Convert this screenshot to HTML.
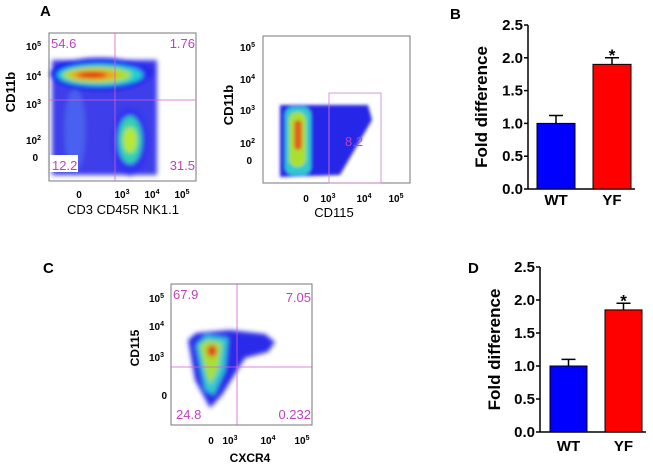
<!DOCTYPE html>
<html><head><meta charset="utf-8"><style>
body{margin:0;background:#fff;width:653px;height:465px;overflow:hidden}
svg text{font-family:"Liberation Sans",Arial,sans-serif}
</style></head><body>
<svg width="653" height="465" viewBox="0 0 653 465" xmlns="http://www.w3.org/2000/svg">
<defs>
<filter id="bl" x="-30%" y="-30%" width="160%" height="160%"><feGaussianBlur stdDeviation="2.5"/></filter>
<filter id="bl2" x="-30%" y="-30%" width="160%" height="160%"><feGaussianBlur stdDeviation="1.5"/></filter>
</defs>

<text x="40" y="16" font-size="15" font-weight="bold">A</text>
<text x="450" y="19" font-size="15" font-weight="bold">B</text>
<text x="43" y="273" font-size="15" font-weight="bold">C</text>
<text x="468" y="273" font-size="15" font-weight="bold">D</text>

<g>
<g filter="url(#bl)">
<rect x="52" y="60" width="105" height="115" fill="#2828e8" opacity="0.9"/>
<ellipse cx="100" cy="74" rx="50" ry="16" fill="#1010f0"/>
<ellipse cx="140" cy="72" rx="15" ry="9" fill="#2a2aef"/>
<ellipse cx="100" cy="75" rx="43" ry="11" fill="#20d0d0"/>
<ellipse cx="97" cy="75" rx="34" ry="8" fill="#b0e020"/>
<ellipse cx="94" cy="75" rx="24" ry="5" fill="#f0a020"/>
<ellipse cx="92" cy="75" rx="15" ry="3" fill="#e02010"/>
<ellipse cx="130" cy="142" rx="18" ry="34" fill="#3030f0"/>
<ellipse cx="130" cy="140" rx="12" ry="24" fill="#30d0b0"/>
<ellipse cx="130" cy="140" rx="7" ry="13" fill="#b8e830"/>
<ellipse cx="75" cy="130" rx="10" ry="40" fill="#4a60f0"/>
</g>
<rect x="49" y="33" width="147" height="148" fill="none" stroke="#777" stroke-width="1"/>
<line x1="115" y1="33" x2="115" y2="181" stroke="#d060d0" stroke-width="0.8"/>
<line x1="49" y1="100" x2="196" y2="100" stroke="#d060d0" stroke-width="0.8"/>
<rect x="50" y="155" width="28" height="17" fill="#fff"/>
<g fill="#c040c0" font-size="13">
<text x="51" y="48">54.6</text><text x="195" y="48" text-anchor="end">1.76</text>
<text x="52" y="170">12.2</text><text x="195" y="170" text-anchor="end">31.5</text>
</g>
<g font-size="10" font-weight="bold" text-anchor="end">
<text x="41" y="50">10<tspan dy="-4" font-size="7">5</tspan></text>
<text x="41" y="80">10<tspan dy="-4" font-size="7">4</tspan></text>
<text x="41" y="108">10<tspan dy="-4" font-size="7">3</tspan></text>
<text x="41" y="144">10<tspan dy="-4" font-size="7">2</tspan></text>
<text x="38" y="161">0</text>
</g>
<g font-size="10" font-weight="bold" text-anchor="middle">
<text x="79" y="198">0</text>
<text x="122" y="198">10<tspan dy="-4" font-size="7">3</tspan></text>
<text x="152" y="198">10<tspan dy="-4" font-size="7">4</tspan></text>
<text x="182" y="198">10<tspan dy="-4" font-size="7">5</tspan></text>
</g>
<text x="123" y="214" font-size="13" text-anchor="middle">CD3 CD45R NK1.1</text>
<text transform="translate(15,92) rotate(-90)" font-size="13" font-weight="bold" text-anchor="middle">CD11b</text>
</g>

<g>
<g filter="url(#bl2)">
<polygon points="280,105 368,105 372,120 340,175 280,177" fill="#2828e8"/>
<rect x="285" y="107" width="26" height="68" rx="8" fill="#30c8d0"/>
<rect x="289" y="112" width="17" height="55" rx="8" fill="#a8e030"/>
<rect x="294" y="120" width="8" height="30" rx="4" fill="#e06020"/>
</g>
<rect x="263" y="36" width="147" height="147" fill="none" stroke="#777" stroke-width="1"/>
<rect x="329" y="93" width="52" height="90" fill="none" stroke="#d080d0" stroke-width="0.8"/>
<text x="345" y="146" font-size="13" fill="#c040c0">8.2</text>
<g font-size="10" font-weight="bold" text-anchor="end">
<text x="255" y="51">10<tspan dy="-4" font-size="7">5</tspan></text>
<text x="255" y="83">10<tspan dy="-4" font-size="7">4</tspan></text>
<text x="255" y="114">10<tspan dy="-4" font-size="7">3</tspan></text>
<text x="255" y="147">10<tspan dy="-4" font-size="7">2</tspan></text>
<text x="252" y="164">0</text>
</g>
<g font-size="10" font-weight="bold" text-anchor="middle">
<text x="306" y="202">0</text>
<text x="328" y="202">10<tspan dy="-4" font-size="7">3</tspan></text>
<text x="364" y="202">10<tspan dy="-4" font-size="7">4</tspan></text>
<text x="396" y="202">10<tspan dy="-4" font-size="7">5</tspan></text>
</g>
<text x="334" y="217" font-size="13" text-anchor="middle">CD115</text>
<text transform="translate(233,105) rotate(-90)" font-size="13" font-weight="bold" text-anchor="middle">CD11b</text>
</g>

<g>
<g filter="url(#bl)">
<polygon points="188,340 196,333 230,330 265,334 275,342 268,352 245,358 222,395 210,408 195,380" fill="#2a2aea"/>
<polygon points="196,345 206,335 228,338 225,370 214,395 205,390" fill="#30c8d0"/>
<polygon points="200,345 208,340 222,343 218,370 210,385 205,370" fill="#a8e030"/>
<ellipse cx="212" cy="351" rx="5" ry="6" fill="#e04020"/>
</g>
<rect x="171" y="284" width="141" height="141" fill="none" stroke="#777" stroke-width="1"/>
<line x1="237" y1="284" x2="237" y2="425" stroke="#d060d0" stroke-width="0.8"/>
<line x1="171" y1="367" x2="312" y2="367" stroke="#d060d0" stroke-width="0.8"/>
<g fill="#c040c0" font-size="13">
<text x="173" y="299">67.9</text><text x="311" y="302" text-anchor="end">7.05</text>
<text x="176" y="419">24.8</text><text x="311" y="419" text-anchor="end">0.232</text>
</g>
<g font-size="10" font-weight="bold" text-anchor="end">
<text x="164" y="302">10<tspan dy="-4" font-size="7">5</tspan></text>
<text x="164" y="330">10<tspan dy="-4" font-size="7">4</tspan></text>
<text x="164" y="361">10<tspan dy="-4" font-size="7">3</tspan></text>
<text x="167" y="399">0</text>
</g>
<g font-size="10" font-weight="bold" text-anchor="middle">
<text x="211" y="444">0</text>
<text x="230" y="444">10<tspan dy="-4" font-size="7">3</tspan></text>
<text x="268" y="444">10<tspan dy="-4" font-size="7">4</tspan></text>
<text x="302" y="444">10<tspan dy="-4" font-size="7">5</tspan></text>
</g>
<text x="250" y="462" font-size="12" font-weight="bold" text-anchor="middle">CXCR4</text>
<text transform="translate(139,348) rotate(-90)" font-size="12" font-weight="bold" text-anchor="middle">CD115</text>
</g>

<g id="chartB"></g>
<g id="chartD"></g>
</svg>
<script>
const categories = ["WT", "YF"];
const barColors = ["#0000ff", "#ff0000"];
const valuesB = [1.0, 1.9];
const errorsB = [0.12, 0.1];
const valuesD = [1.0, 1.85];
const errorsD = [0.1, 0.1];
const yTicks = [0.0, 0.5, 1.0, 1.5, 2.0, 2.5];
const sigFlags = [false, true];

const NS = "http://www.w3.org/2000/svg";
function mk(parent, tag, attrs, text) {
  const e = document.createElementNS(NS, tag);
  for (const k in attrs) e.setAttribute(k, attrs[k]);
  if (text !== undefined) e.textContent = text;
  parent.appendChild(e);
  return e;
}
function drawBar(gid, vals, errs, ax, top, bottom, barStarts, barW, titleX, labY) {
  const g = document.getElementById(gid);
  const y = v => bottom - (v / 2.5) * (bottom - top);
  const axis = mk(g, "line", {x1: ax, y1: top, x2: ax, y2: bottom, stroke: "#000", "stroke-width": 1.5});
  
  
  const base = mk(g, "line", {x1: ax, y1: bottom, x2: barStarts[1] + barW + 4, y2: bottom, stroke: "#000", "stroke-width": 1.5});
  
  
  yTicks.forEach(t => {
    const tk = mk(g, "line", {x1: ax - 4, y1: y(t), x2: ax, y2: y(t), stroke: "#000", "stroke-width": 1.5});
    
    
    const tl = mk(g, "text", {x: ax - 5, y: y(t) + 5, "font-size": 15, "font-weight": "bold", "text-anchor": "end"}, t.toFixed(1));
    
    
  });
  const title = mk(g, "text", {transform: `translate(${titleX},${(top + bottom) / 2}) rotate(-90)`, "font-size": 17, "font-weight": "bold", "text-anchor": "middle"}, "Fold difference");
  
  
  vals.forEach((v, i) => {
    const x0 = barStarts[i], cx = x0 + barW / 2;
    const r = mk(g, "rect", {x: x0, y: y(v), width: barW, height: bottom - y(v), fill: barColors[i], stroke: "#000", "stroke-width": 1});
    
    
    const eTop = y(v + errs[i]);
    const el = mk(g, "path", {d: `M${cx},${y(v)}V${eTop}M${cx - 7},${eTop}H${cx + 7}`, stroke: "#000", "stroke-width": 1.5, fill: "none"});
    
    
    const lab = mk(g, "text", {x: cx, y: labY, "font-size": 15, "font-weight": "bold", "text-anchor": "middle"}, categories[i]);
    
    
    if (sigFlags[i]) {
      const s = mk(g, "text", {x: cx, y: eTop + 3, "font-size": 17, "font-weight": "bold", "text-anchor": "middle"}, "*");
      
      
    }
  });
}
drawBar("chartB", valuesB, errorsB, 528, 25, 189, [537, 593], 38, 487, 205);
drawBar("chartD", valuesD, errorsD, 540, 267, 432, [550, 605], 37, 500, 451);
</script>
</body></html>
